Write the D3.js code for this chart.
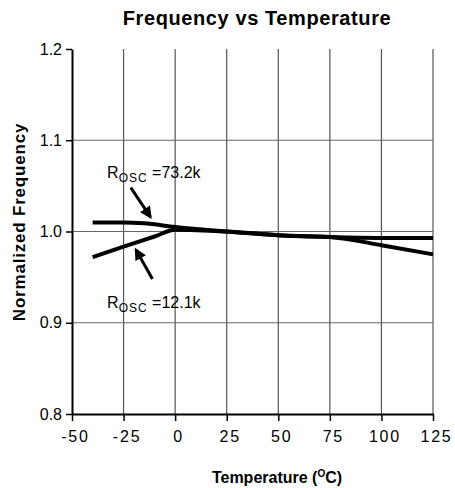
<!DOCTYPE html>
<html>
<head>
  <meta charset="UTF-8">
  <style>
    body { margin: 0; background: #fff; }
    text { font-family: "Liberation Sans", Arial, sans-serif; fill: #000; }
  </style>
</head>
<body>
<svg></svg>
<script src="https://d3js.org/d3.v7.min.js"></script>
<script>

let width = 455, height = 488;
let margin = {top: 49, right: 22, bottom: 74, left: 72};

// data
let xTicks = [-50, -25, 0, 25, 50, 75, 100, 125];
let yTicks = [0.8, 0.9, 1.0, 1.1, 1.2];
let temps73 = [-40, -25, -15, 0, 25, 50, 75, 100, 125];
let freq73 = [1.010, 1.010, 1.009, 1.005, 1.000, 0.996, 0.994, 0.993, 0.993];
let temps12 = [-40, -25, -10, 0, 25, 50, 75, 100, 125];
let freq12 = [0.972, 0.9835, 0.9945, 1.002, 1.000, 0.996, 0.994, 0.985, 0.975];

let labels = [
  {main: "R", sub: "OSC", val: " =73.2k", x: -33, y: 1.059},
  {main: "R", sub: "OSC", val: " =12.1k", x: -33, y: 0.9165}
];
let arrows = [
  {x1: -21.5, y1: 1.048, x2: -12, y2: 1.016},
  {x1: -11, y1: 0.948, x2: -19, y2: 0.980}
];

let svg = d3.select("svg")
    .attr("width", width)
    .attr("height", height);

let x = d3.scaleLinear().domain([-50, 125]).range([margin.left, width - margin.right]);
let y = d3.scaleLinear().domain([0.8, 1.2]).range([height - margin.bottom, margin.top]);

svg.append("defs").append("marker")
    .attr("id", "head")
    .attr("viewBox", "0 -5 10 10")
    .attr("refX", 8)
    .attr("refY", 0)
    .attr("markerWidth", 4.5)
    .attr("markerHeight", 4)
    .attr("markerUnits", "strokeWidth")
    .attr("orient", "auto")
    .append("path").attr("d", "M0,-5L10,0L0,5Z").attr("fill", "#000");

// grid
svg.append("g")
    .selectAll("line")
    .data(xTicks.slice(1))
    .enter().append("line")
    .attr("x1", d => x(d)).attr("x2", d => x(d))
    .attr("y1", y(1.2)).attr("y2", y(0.8))
    .attr("stroke", "#555").attr("stroke-width", 1.2);

svg.append("g")
    .selectAll("line")
    .data(yTicks.slice(1, 4))
    .enter().append("line")
    .attr("x1", x(-50)).attr("x2", x(125))
    .attr("y1", d => y(d)).attr("y2", d => y(d))
    .attr("stroke", "#666").attr("stroke-width", 1.2);

// axes
let xAxis = svg.append("g")
    .attr("transform", "translate(0," + y(0.8) + ")")
    .call(d3.axisBottom(x).tickValues(xTicks).tickFormat(d => String(d))
      .tickSize(7).tickSizeOuter(0).tickPadding(10));
xAxis.select(".domain").attr("stroke-width", 2);
xAxis.selectAll("text").attr("font-size", 16).attr("letter-spacing", 1.8).attr("dx", 3);

let yAxis = svg.append("g")
    .attr("transform", "translate(" + x(-50) + ",0)")
    .call(d3.axisLeft(y).tickValues(yTicks).tickFormat(d3.format(".1f")).tickSize(6).tickSizeOuter(0).tickPadding(4));
yAxis.select(".domain").attr("stroke-width", 2);
yAxis.selectAll("text").attr("font-size", 16);
svg.selectAll(".tick line").attr("stroke-width", 1.5);

// curves
let line = d3.line().x(d => x(d[0])).y(d => y(d[1])).curve(d3.curveMonotoneX);
[d3.zip(temps73, freq73), d3.zip(temps12, freq12)].forEach(s => {
  svg.append("path")
      .datum(s)
      .attr("d", line)
      .attr("fill", "none")
      .attr("stroke", "#000")
      .attr("stroke-width", 4);
});

// annotations
svg.append("g").selectAll("line")
    .data(arrows)
    .enter().append("line")
    .attr("x1", d => x(d.x1)).attr("y1", d => y(d.y1))
    .attr("x2", d => x(d.x2)).attr("y2", d => y(d.y2))
    .attr("stroke", "#000").attr("stroke-width", 3)
    .attr("marker-end", "url(#head)");

let lab = svg.append("g").selectAll("text")
    .data(labels)
    .enter().append("text")
    .attr("x", d => x(d.x)).attr("y", d => y(d.y))
    .attr("font-size", 16);
lab.append("tspan").text(d => d.main);
lab.append("tspan").attr("font-size", 12).attr("dy", 4).attr("letter-spacing", 1).text(d => d.sub);
lab.append("tspan").attr("dy", -4).text(d => d.val);

// titles
svg.append("text")
    .attr("x", 257).attr("y", 25)
    .attr("text-anchor", "middle")
    .attr("font-size", 20).attr("font-weight", "bold").attr("letter-spacing", 0.6)
    .text("Frequency vs Temperature");

let xt = svg.append("text")
    .attr("x", 277).attr("y", 483)
    .attr("text-anchor", "middle")
    .attr("font-size", 16).attr("font-weight", "bold");
xt.append("tspan").text("Temperature (");
xt.append("tspan").attr("font-size", 10).attr("dy", -6).text("O");
xt.append("tspan").attr("dy", 6).text("C)");

svg.append("text")
    .attr("transform", "translate(25,222) rotate(-90)")
    .attr("text-anchor", "middle")
    .attr("font-size", 17).attr("font-weight", "bold").attr("letter-spacing", 0.8)
    .text("Normalized Frequency");

</script>
</body>
</html>
